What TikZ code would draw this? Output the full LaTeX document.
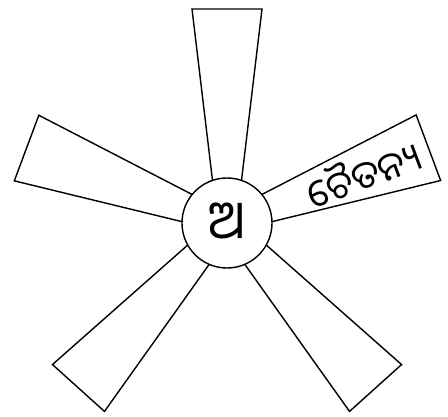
\documentclass[tikz,border=0pt]{standalone}
\usepackage{fontspec}
\newfontfamily\oriyafont[Script=Oriya]{Noto Sans Oriya UI}

\begin{document}
\begin{tikzpicture}[x=0.025cm, y=0.025cm, line width=1pt]
    \tikzset{
        blade/.style={draw=black, fill=white, line join=miter},
        hubdisc/.style={circle, draw=black, fill=white, minimum size=2.25cm, inner sep=0pt, font=\oriyafont\fontsize{38}{44}\selectfont},
        bladetext/.style={font=\oriyafont\fontsize{27}{32}\selectfont, inner sep=0pt}
    }
    \useasboundingbox (0,0) rectangle (448,416);

    % --- Centre du moyeu ---
    \coordinate (hub) at (227,193);

    % ==============================================================
    % Pales (trapezes) autour du moyeu
    % ==============================================================
    \begin{scope}[shift={(hub)}]
        % pale haute
        \draw[blade, rotate=90]    (30,-13) -- (214,-35) -- (214,35) -- (30,13) -- cycle;
        % pale droite (avec texte)
        \draw[blade, rotate=20.5]  (30,-13) -- (215,-35) -- (215,35) -- (30,13) -- cycle;
        % pale gauche
        \draw[blade, rotate=159.5] (30,-13) -- (214,-35) -- (214,35) -- (30,13) -- cycle;
        % pale bas gauche
        \draw[blade, rotate=-132]  (30,-13) -- (222,-35) -- (222,35) -- (30,13) -- cycle;
        % pale bas droite
        \draw[blade, rotate=-48]   (30,-13) -- (222,-35) -- (222,35) -- (30,13) -- cycle;

        % Texte sur la pale droite
        \node[bladetext, rotate=20.5] (chaitanya) at (19.8:145) {ଚୈତନ୍ୟ};
    \end{scope}

    % Moyeu central
    \node[hubdisc] (centre) at (hub) {ଅ};

\end{tikzpicture}
\end{document}
